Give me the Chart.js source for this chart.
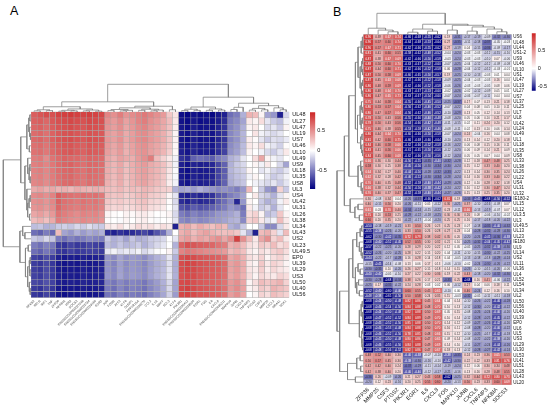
<!DOCTYPE html>
<html>
<head>
<meta charset="utf-8">
<script src="https://cdn.jsdelivr.net/npm/chart.js@4.4.1/dist/chart.umd.min.js"></script>
<style>
  html, body { margin: 0; padding: 0; background: #fff; }
  body { width: 550px; height: 408px; position: relative; overflow: hidden; font-family: "Liberation Sans", Arial, sans-serif; }
  canvas, .tag { position: absolute; }
  .tag { font-size: 12.5px; line-height: 12.5px; color: #000; }
</style>
</head>
<body>
<div class="tag" style="left:10px;top:5px">A</div>
<div class="tag" style="left:333px;top:5.5px">B</div>
<script>
// ---- panel A data ----
const rowsA = ['UL48','UL27','UL47','UL19','US7','UL46','UL10','UL49','US9','UL18','UL35','US8','UL3','US4','UL42','UL31','UL26','UL38','UL34','UL43','US2','UL23','UL49.5','EP0','UL39','UL29','US3','UL50','UL40','UL56'];
const colsA = ['NFKB2','RELB','IRF1','TNF','ZFP36','NFKBIA','IER3','SOCS3','ENSSSCG00000027046','ENSSSCG00000033784','ENSSSCG00000029160','EGR3','JUN','FOSB','ATF3','KLF6','DUSP1','PPP1R15A','ENSSSCG00000039275','CCL2','IL1A','MAFF','BCL3','KLF4','PIK3R1','ENSSSCG00000030412','ENSSSCG00000028594','EGR1','FOS','IL6','CXCL8','ENSSSCG00000035311','MAPK10','JUNB','CXCL6','TNFAIP3','PTGS2','CSF3','MMP25','CXCL2','NR4A1','SGK1'];
const valuesA = [
  [.72,.76,.80,.78, .84,.86,.88,.85,.83,.86,.84,.82, .55,.50,.58,.48,.52,.56,.60,.55,.50,.45, .25,.12, -.92,-.95,-.90,-.93,-.91,-.94,-.88,-.85, -.55,-.50,-.30, .35,.30,.05,-.35,-.40,-.85,-.15],
  [.70,.72,.68,.74, .78,.80,.82,.79,.77,.81,.80,.78, .50,.45,.52,.42,.48,.55,.58,.50,.46,.40, .30,.10, -.90,-.93,-.88,-.92,-.90,-.91,-.86,-.80, -.50,-.45,-.35, .10,.05,.15,-.10,-.20,-.25,-.05],
  [.68,.70,.66,.72, .76,.78,.80,.77,.75,.79,.78,.76, .48,.44,.50,.40,.46,.52,.55,.48,.44,.38, .28,.08, -.88,-.92,-.86,-.90,-.89,-.90,-.84,-.78, -.48,-.42,-.30, .05,.10,.00,-.15,-.10,-.20,.05],
  [.66,.68,.64,.70, .74,.77,.78,.75,.73,.77,.76,.74, .46,.42,.48,.38,.44,.50,.52,.46,.42,.36, .25,.05, -.87,-.91,-.85,-.89,-.88,-.89,-.82,-.76, -.46,-.40,-.28, .00,.12,-.05,-.10,-.15,-.10,.00],
  [.67,.69,.65,.71, .75,.78,.79,.76,.74,.78,.77,.75, .47,.43,.49,.39,.45,.51,.53,.47,.43,.37, .26,.06, -.88,-.92,-.86,-.90,-.89,-.90,-.83,-.77, -.47,-.41,-.29, .08,.02,-.10,-.20,-.12,-.15,-.08],
  [.64,.66,.62,.68, .72,.75,.76,.73,.71,.75,.74,.72, .45,.40,.46,.36,.42,.48,.50,.44,.40,.34, .24,.04, -.86,-.90,-.84,-.88,-.87,-.88,-.80,-.74, -.44,-.38,-.26, .10,.05,.15,-.05,-.10,-.18,.02],
  [.63,.65,.61,.67, .71,.74,.75,.72,.70,.74,.73,.71, .44,.39,.45,.35,.41,.47,.49,.43,.39,.33, .22,.03, -.85,-.89,-.83,-.87,-.86,-.87,-.79,-.72, -.42,-.36,-.25, .05,.00,-.05,-.15,-.20,-.10,.10],
  [.58,.60,.52,.62, .66,.70,.68,.67,.65,.69,.68,.66, .40,.35,.42,.38,.36,.45,.50,.58,.30,.20, .10,-.05, -.78,-.82,-.60,-.55,-.58,-.62,-.50,-.45, -.30,-.25,-.10, .00,.15,.40,.05,-.05,-.10,.00],
  [.57,.59,.55,.61, .66,.69,.70,.66,.64,.68,.67,.65, .38,.33,.40,.30,.36,.42,.45,.38,.34,.28, .15,-.05, -.85,-.90,-.84,-.86,-.85,-.82,-.70,-.60, -.30,-.20,-.15, .00,.05,-.05,.10,.00,-.15,-.35],
  [.56,.58,.54,.60, .65,.68,.69,.65,.63,.67,.66,.64, .37,.32,.39,.29,.35,.41,.44,.37,.33,.27, .12,-.02, -.88,-.92,-.86,-.88,-.87,-.84,-.72,-.62, -.28,-.22,-.18, .05,.00,-.10,-.05,-.15,-.20,-.10],
  [.55,.57,.53,.59, .64,.67,.68,.64,.62,.66,.65,.63, .36,.31,.38,.28,.34,.40,.43,.36,.32,.26, .10,-.03, -.87,-.91,-.85,-.87,-.86,-.83,-.71,-.61, -.30,-.24,-.20, -.05,.05,.00,-.10,-.20,-.15,-.05],
  [.54,.56,.52,.58, .63,.66,.67,.63,.61,.65,.64,.62, .35,.30,.37,.27,.33,.39,.42,.35,.31,.25, .08,-.05, -.86,-.90,-.84,-.86,-.85,-.82,-.70,-.60, -.32,-.26,-.22, .00,-.05,-.10,-.15,-.10,-.20,-.10],
  [.38,.42,.36,.40, .34,.36,.32,.38,.35,.33,.37,.34, .30,.28,.32,.26,.30,.28,.33,.30,.25,.22, .20,-.30, -.35,-.32,-.38,-.30,-.36,-.40,-.45,-.42, -.45,-.50,-.40, .30,.00,-.20,-.40,-.45,.20,-.20],
  [.52,.54,.50,.56, .72,.66,.64,.62,.65,.63,.64,.60, .30,.26,.28,.22,.25,.30,.32,.24,.22,.18, .05,-.10, -.82,-.86,-.80,-.84,-.82,-.78,-.65,-.60, -.50,-.45,-.35, .00,.10,-.15,-.20,-.30,-.10,.05],
  [.50,.52,.48,.54, .70,.64,.62,.60,.63,.61,.62,.58, .26,.22,.24,.20,.22,.26,.28,.20,.18,.15, .02,-.15, -.80,-.84,-.78,-.82,-.80,-.76,-.62,-.55, -.45,-.82,-.40, .05,.00,-.20,-.30,-.25,-.05,.10],
  [.48,.50,.46,.52, .68,.62,.60,.58,.61,.59,.60,.56, .22,.18,.20,.15,.18,.22,.24,.16,.14,.10, .00,-.10, -.65,-.70,-.62,-.66,-.64,-.60,-.55,-.50, -.40,-.45,-.55, .10,-.05,-.20,-.15,-.30,-.10,.00],
  [.40,.44,.38,.46, .62,.58,.55,.52,.56,.54,.55,.50, .05,.02,.00,.06,.03,.08,.10,.04,.00,.02, .05,-.15, -.50,-.55,-.48,-.52,-.50,-.46,-.40,-.38, -.35,-.30,-.50, .15,.20,.05,-.25,-.20,.25,.05],
  [.30,.35,.28,.38, .58,.55,.52,.50,.53,.51,.52,.48, .02,.00,-.02,.05,.00,.06,.08,.02,-.02,.00, .02,-.10, -.45,-.48,-.42,-.46,-.44,-.40,-.38,-.35, -.30,-.28,-.45, .20,.25,.10,-.10,-.05,.30,.10],
  [-.25,-.22,-.30,-.28, -.20,-.18,-.22,-.15,-.20,-.12,-.18,-.20, .12,.08,.15,.05,.10,.18,.12,.15,.08,.15, .10,-.85, .35,.40,.30,.38,.32,.28,.35,.30, -.30,-.35,-.20, .00,.00,-.20,-.45,-.45,-.15,.10],
  [-.55,-.60,-.50,-.58, .30,-.35,-.40,-.30,-.38,-.32,-.36,-.30, -.80,-.85,-.78,-.82,-.80,-.75,-.70,-.78,-.65,-.55, -.30,.00, .35,.40,.30,.38,.42,.35,.30,.28, .30,.25,-.10, -.30,-.85,.30,.35,.20,-.10,.30],
  [-.20,-.25,-.15,-.22, -.50,-.55,-.48,-.52,-.50,-.45,-.48,-.50, -.20,-.30,-.25,-.35,-.22,-.30,-.28,-.20,-.18,-.15, .00,-.10, .40,.45,.35,.42,.38,.45,.50,.40, .50,.85,.50, .30,.10,.40,.50,.20,.30,.10],
  [-.50,-.55,-.48,-.52, -.75,-.78,-.72,-.76,-.74,-.70,-.73,-.75, -.25,-.30,-.22,-.28,-.25,-.20,-.30,-.22,-.15,-.10, .00,-.30, .70,.78,.75,.72,.70,.68,.62,.58, .35,.40,.30, .15,.10,.25,.20,.30,.15,.20],
  [-.55,-.60,-.52,-.58, -.75,-.78,-.72,-.76,-.74,-.72,-.73,-.75, -.10,-.05,-.12,-.08,-.10,-.05,-.15,-.08,-.02,.00, .05,-.20, .55,.60,.58,.55,.52,.50,.48,.45, .30,.35,.28, .10,.05,.15,.10,.20,.25,.15],
  [-.72,-.75,-.68,-.74, -.85,-.88,-.86,-.87,-.84,-.86,-.85,-.83, -.40,-.45,-.35,-.42,-.38,-.40,-.44,-.36,-.30,-.25, -.10,-.30, .78,.82,.80,.76,.74,.72,.70,.65, .40,.45,.35, .15,.10,.20,.05,.15,.20,.10],
  [-.74,-.77,-.70,-.76, -.87,-.90,-.88,-.89,-.86,-.88,-.87,-.85, -.42,-.47,-.37,-.44,-.40,-.42,-.46,-.38,-.32,-.27, -.12,-.32, .80,.84,.82,.78,.76,.74,.72,.67, .42,.47,.37, .10,.05,.25,.10,.20,.15,.05],
  [-.73,-.76,-.69,-.75, -.86,-.89,-.87,-.88,-.85,-.87,-.86,-.84, -.41,-.46,-.36,-.43,-.39,-.41,-.45,-.37,-.31,-.26, -.11,-.31, .79,.83,.81,.77,.75,.73,.71,.66, .41,.46,.36, .12,.08,.22,.08,.18,.12,.08],
  [-.72,-.75,-.68,-.74, -.85,-.88,-.86,-.87,-.84,-.86,-.85,-.83, -.40,-.45,-.35,-.42,-.38,-.40,-.44,-.36,-.30,-.25, -.10,-.30, .78,.82,.80,.76,.74,.72,.70,.65, .40,.45,.35, .15,.05,.18,.12,.10,.20,.15],
  [-.70,-.72,-.66,-.72, -.84,-.87,-.85,-.86,-.83,-.85,-.84,-.82, -.48,-.52,-.45,-.50,-.46,-.48,-.52,-.44,-.38,-.30, -.15,-.35, .80,.82,.78,.74,.72,.70,.68,.62, .45,.50,.40, .05,.15,.30,.25,.30,.35,.20],
  [-.75,-.78,-.70,-.76, -.88,-.90,-.88,-.89,-.86,-.88,-.87,-.85, -.50,-.55,-.46,-.52,-.48,-.50,-.54,-.46,-.40,-.32, -.15,-.35, .82,.85,.80,.76,.74,.72,.70,.64, .46,.52,.42, .05,.10,.25,.20,.35,.30,.25],
  [-.76,-.79,-.72,-.78, -.89,-.91,-.89,-.90,-.87,-.89,-.88,-.86, -.52,-.56,-.48,-.54,-.50,-.52,-.56,-.48,-.42,-.34, -.18,-.38, .82,.84,.80,.76,.75,.72,.70,.64, .44,.50,.40, .00,.05,.20,.15,.30,.25,.20]
];
const legendA = [-0.97, 0.97];
const legendTicksA = [-0.5, 0, 0.5];
// dendrograms: [height, left, right], leaves are display positions
const treeAcols = [1.0,
  [0.36,
    [0.18, [0.07, [0.03, 0, 1], [0.04, 2, 3]], [0.1, [0.05, [0.02, 4, 5], [0.03, 6, 7]], [0.06, [0.03, 8, 9], [0.02, 10, 11]]]],
    [0.2, [0.14, [0.08, [0.04, 12, 13], [0.05, [0.03, 14, 15], 16]], [0.09, [0.05, 17, 18], [0.06, [0.03, 19, 20], 21]]], [0.07, 22, 23]]],
  [0.53,
    [0.17, [0.09, [0.04, 24, 25], [0.05, 26, 27]], [0.1, [0.05, 28, 29], [0.06, 30, 31]]],
    [0.31, [0.16, [0.08, 32, 33], 34], [0.22, [0.12, [0.06, 35, 36], [0.07, 37, 38]], [0.14, 39, [0.07, 40, 41]]]]]];
const treeArows = [1.0,
  [0.37,
    [0.15, [0.08, [0.04, 0, 1], [0.05, 2, [0.02, 3, 4]]], [0.06, 5, 6]],
    [0.22, [0.12, 7, [0.07, [0.04, 8, 9], [0.03, 10, 11]]], [0.15, 12, [0.12, [0.07, [0.03, 13, 14], 15], [0.05, 16, 17]]]]],
  [0.4,
    [0.3, 18, [0.22, 19, 20]],
    [0.2, [0.1, 21, 22], [0.12, [0.07, [0.03, 23, 24], [0.04, 25, 26]], [0.06, 27, [0.03, 28, 29]]]]]];

// ---- panel B data ----
const rowsB = ['US6','UL48','UL44','US1-2','US9','UL46','UL10','US1','UL47','UL19','UL27','US7','UL37','UL25','UL7','UL8','UL42','UL24','UL49','UL1','UL18','UL35','US8','UL33','UL38','UL26','UL22','US4','UL31','UL32','IE180-2','UL15','UL12','UL3.5','UL3','UL49.5','UL13','UL23','IE180','UL9','UL14','US2','UL11','UL36','UL4','UL52','UL54','UL34','UL2','UL50','UL56','UL40','UL39','EP0','UL6','UL5','US3','UL29','UL30','UL53','UL41','UL51','UL28','UL43','UL20'];
const colsB = ['ZFP36','MMP25','CSF3','PTGS2','PIK3R1','EGR1','IL6','CXCL8','FOS','MAPK10','JUNB','CXCL6','TNFAIP3','NFKBIA','SOCS3'];
const valuesB = [
  [.90,.39,.67,.74,-.66,-.68,-.55,-.62,.19,-.31,-.17,-.19,-.09,-.32,-.30],
  [.90,.57,.60,.74,-.64,-.68,-.53,-.64,.27,-.35,-.11,-.18,-.37,-.05,-.03],
  [.90,.57,.67,.71,-.62,-.66,-.55,-.62,.27,-.19,.04,-.15,-.36,-.09,-.17],
  [.81,.41,.60,.55,-.58,-.62,-.48,-.52,-.04,-.24,-.03,-.03,-.12,-.15,-.10],
  [.87,.38,.67,.69,-.62,-.66,-.50,-.58,-.03,-.24,-.03,-.03,-.10,.07,-.06],
  [.88,.50,.60,.70,-.63,-.67,-.52,-.60,-.07,-.25,-.04,-.12,-.12,-.09,-.08],
  [.87,.44,.60,.71,-.62,-.66,-.52,-.58,.06,-.28,-.04,-.12,-.12,-.03,-.01],
  [.87,.50,.58,.69,-.60,-.65,-.50,-.57,.19,-.25,-.10,-.13,-.03,.01,.04],
  [.87,.45,.63,.68,-.62,-.66,-.52,-.58,-.09,-.25,-.04,-.03,-.03,.16,.04],
  [.86,.48,.59,.69,-.62,-.66,-.52,-.58,-.06,-.26,-.03,-.03,-.05,.08,.06],
  [.86,.48,.64,.70,-.63,-.67,-.53,-.60,-.02,-.26,-.02,-.12,-.09,.05,.01],
  [.86,.47,.65,.73,-.63,-.67,-.54,-.60,-.07,-.24,-.06,-.07,-.11,.04,.04],
  [.75,.44,.58,.64,-.55,-.60,-.45,-.50,-.25,-.37,.17,.07,.13,.21,.18],
  [.80,.53,.57,.64,-.56,-.62,-.46,-.52,-.07,-.22,.04,.08,.05,.10,.11],
  [.80,.47,.57,.64,-.56,-.62,-.46,-.52,-.10,-.29,.13,.05,.12,.14,.13],
  [.78,.50,.43,.56,-.55,-.60,-.40,-.48,-.08,-.20,.05,.06,.10,.21,.17],
  [.78,.50,.43,.56,-.54,-.60,-.42,-.48,-.11,-.15,.02,.11,.24,.20,.12],
  [.75,.46,.38,.55,-.53,-.58,-.42,-.46,-.08,-.11,.02,.13,.10,.06,.14],
  [.86,.44,.64,.70,-.60,-.66,-.50,-.58,-.07,-.24,.24,-.04,.16,.04,.08],
  [.81,.42,.60,.75,-.66,-.68,-.60,-.64,-.10,-.20,.13,.14,.12,.20,.18],
  [.84,.46,.58,.66,-.62,-.66,-.52,-.58,-.16,-.22,.06,.08,.15,.16,.11],
  [.83,.41,.56,.66,-.61,-.65,-.50,-.56,-.12,-.20,.06,.09,.14,.21,.09],
  [.84,.45,.60,.68,-.62,-.66,-.50,-.56,-.12,-.24,.05,.05,.07,.04,.09],
  [.66,.36,.30,.44,-.50,-.55,-.35,-.40,-.32,-.28,.12,.18,.47,.48,.25],
  [.58,.30,.25,.38,-.45,-.50,-.30,-.34,-.30,-.24,.15,.12,.33,.40,.20],
  [.64,.34,.27,.40,-.44,-.50,-.28,-.32,-.33,-.22,.13,.14,.30,.35,.24],
  [.62,.32,.28,.42,-.46,-.52,-.30,-.34,-.28,-.24,.14,.16,.33,.40,.22],
  [.70,.40,.35,.48,-.52,-.58,-.40,-.44,-.29,-.26,.12,.10,.28,.32,.18],
  [.66,.38,.32,.44,-.50,-.56,-.38,-.42,-.24,-.22,.10,.12,.30,.47,.24],
  [.70,.40,.37,.47,-.52,-.58,-.40,-.44,-.27,-.26,.15,.13,.25,.35,.20],
  [.30,-.08,.34,.04,-.26,-.37,-.66,-.62,.81,.19,-.33,-.45,-.68,-.50,-.52],
  [.40,-.15,.50,.20,-.26,-.11,.05,-.12,.36,-.21,.37,-.10,-.16,-.09,.07],
  [.61,.03,.70,.40,-.34,-.24,-.15,-.22,.23,-.11,.66,-.13,-.19,-.07,.07],
  [.75,.20,.53,.25,-.29,-.22,-.18,-.25,.30,.30,.26,.08,-.06,-.10,-.02],
  [.60,.20,.35,.20,-.22,-.17,-.04,-.20,.25,.25,.16,-.17,-.18,-.20,-.22],
  [-.50,-.18,-.19,-.21,.33,.50,.26,.23,.25,.23,.07,-.18,-.35,-.40,-.32],
  [-.55,-.38,-.26,-.20,.33,.50,.26,.28,.27,.23,.04,-.28,-.32,-.28,-.30],
  [-.62,-.30,-.42,-.35,.72,.79,.38,.42,.35,.20,-.20,-.26,-.45,-.36,-.38],
  [-.68,-.40,-.52,-.45,.52,.55,.30,.32,.21,.10,-.25,-.32,-.44,-.45,-.42],
  [-.57,-.22,-.25,-.20,.28,.29,.20,.22,.12,.05,-.05,-.25,-.32,-.38,-.30],
  [-.52,-.26,-.20,-.25,.28,.22,.15,.20,.04,-.11,-.10,-.15,-.30,-.22,-.25],
  [-.44,-.22,-.17,-.28,.16,.28,.14,.18,.04,-.05,-.13,-.18,-.18,-.29,-.24],
  [-.15,-.45,-.14,-.08,.13,.06,.17,.13,-.06,-.10,-.02,-.24,-.30,-.26,-.22],
  [-.30,-.35,.10,-.20,.26,.27,.15,.18,.14,.15,-.23,-.10,-.15,-.20,-.06],
  [-.40,-.40,-.05,-.10,.27,.22,.30,.36,.19,.22,.43,-.18,-.20,-.32,-.30],
  [-.30,-.28,-.68,-.34,.38,.26,.17,.21,-.35,.25,-.68,.16,.41,-.06,-.22],
  [-.25,.17,-.35,-.22,.24,.28,.03,.02,.06,-.12,.27,.04,.06,.18,.11],
  [-.52,-.40,-.60,-.40,.60,.55,.45,.65,-.10,.00,.46,-.24,.12,.16,.10],
  [-.48,-.38,-.65,-.50,.50,.58,.24,.35,.15,-.03,-.32,-.05,-.11,-.11,-.18],
  [-.68,-.44,-.50,-.48,.82,.86,.45,.64,.04,.14,-.10,-.26,-.22,-.46,-.28],
  [-.68,-.46,-.54,-.50,.84,.88,.48,.70,.10,.13,-.12,-.30,-.20,-.42,-.22],
  [-.68,-.44,-.50,-.48,.82,.88,.50,.69,.05,.15,-.08,-.26,-.24,-.40,-.20],
  [-.68,-.47,-.52,-.52,.84,.89,.49,.70,.10,.14,-.12,-.28,-.25,-.45,-.22],
  [-.68,-.45,-.52,-.50,.85,.88,.50,.70,.14,.12,-.09,-.27,-.26,-.42,-.20],
  [-.68,-.46,-.53,-.48,.84,.88,.50,.70,.16,.11,-.08,-.28,-.20,-.40,-.22],
  [-.68,-.46,-.52,-.50,.78,.85,.48,.66,.15,.12,-.10,-.25,-.17,-.42,-.18],
  [-.68,-.45,-.50,-.48,.80,.86,.47,.65,.09,.14,-.08,-.22,-.22,-.38,-.20],
  [-.68,-.46,-.55,-.50,.84,.88,.49,.69,.14,.10,-.11,-.27,-.24,-.44,-.26],
  [-.68,-.48,-.56,-.52,.82,.86,.47,.67,.18,.13,-.12,-.28,-.27,-.42,-.24],
  [.48,.52,.40,.30,-.40,-.38,-.07,-.10,-.38,-.35,.24,.23,.36,.65,.53],
  [.50,.57,.45,.30,-.38,-.30,-.16,-.10,-.42,-.30,.22,.22,.33,.81,.76],
  [.42,.42,.40,.24,-.37,-.29,-.11,-.14,-.19,-.24,.12,.06,.30,.34,.48],
  [.42,.38,.40,.20,-.40,-.40,-.12,-.17,-.21,-.16,.13,.16,.28,.48,.55],
  [-.36,.26,-.09,-.26,.21,.27,.43,.58,-.62,-.25,.32,.44,.72,.80,.73],
  [-.20,.12,.23,-.16,.20,.25,.55,.60,-.20,-.13,.50,.23,.33,.60,.69]
];
const legendB = [-0.63, 1.0];
const legendTicksB = [-0.5, 0, 0.5];
const treeBcols = [1.0,
  [0.29, 0, [0.2, 1, [0.12, 2, 3]]],
  [0.48, [0.25, [0.1, 4, 5], [0.15, 6, 7]], [0.43, [0.2, 8, 9], [0.35, [0.15, 10, 11], [0.25, 12, [0.12, 13, 14]]]]]];
const treeBrows = [1.0,
  [0.72,
    [0.55,
      [0.3, [0.2, [0.08, [0.04, 0, [0.02, 1, 2]], 3], [0.12, [0.06, [0.03, 4, 5], [0.03, 6, 7]], [0.07, [0.03, 8, 9], [0.04, 10, 11]]]],
            [0.22, [0.12, [0.07, 12, [0.04, 13, 14]], [0.08, [0.04, 15, 16], 17]], [0.1, [0.05, 18, 19], [0.06, 20, [0.03, 21, 22]]]]],
      [0.2, [0.1, 23, [0.06, 24, [0.03, 25, 26]]], [0.08, 27, [0.04, 28, 29]]]],
    [0.5, 30, [0.32, [0.2, 31, 32], [0.15, 33, 34]]]],
  [0.9,
    [0.55,
      [0.4, [0.25, [0.12, [0.06, 35, 36], 37], [0.15, 38, [0.08, 39, [0.04, 40, 41]]]],
            [0.3, [0.2, 42, [0.12, 43, 44]], [0.25, [0.18, 45, 46], [0.15, 47, 48]]]],
      [0.15, [0.08, [0.04, 49, 50], [0.03, 51, [0.02, 52, 53]]], [0.07, [0.03, 54, 55], [0.05, 56, [0.03, 57, 58]]]]],
    [0.6, [0.25, [0.12, 59, 60], [0.1, 61, 62]], [0.3, 63, 64]]]];

// ---- drawing ----
const FAMILY = '"Liberation Sans", Arial, Helvetica, sans-serif';
Chart.defaults.font.family = FAMILY;

const NAVY = [0, 0, 128], WHITE = [255, 255, 255], FIRE = [205, 38, 38];
// white sits at 0, navy at the low end, firebrick at the high end
function heatColor(v, range) {
  const f = v < 0 ? Math.min(1, v / range[0]) : Math.min(1, v / range[1]);
  const end = v < 0 ? NAVY : FIRE;
  const c = WHITE.map((x, i) => Math.round(x + (end[i] - x) * f));
  return `rgb(${c[0]},${c[1]},${c[2]})`;
}

function makeCanvas() {
  const c = document.createElement('canvas');
  c.width = 550; c.height = 408;
  c.style.left = '0px'; c.style.top = '0px';
  c.style.width = '550px'; c.style.height = '408px';
  document.body.appendChild(c);
  return c;
}

// padding so that the chart area lands on (l,t)-(r,b) of the page
function area(l, t, r, b, axisR = 0, axisB = 0) {
  return {left: l, top: t, right: 550 - r - axisR, bottom: 408 - b - axisB};
}

const base = {
  responsive: false, animation: false, events: [],
  plugins: {legend: {display: false}, tooltip: {enabled: false}}
};

function heatChart(rows, cols, values, range, pad, o) {
  const datasets = rows.map((name, r) => ({
    label: name,
    data: cols.map(() => [r, r + 1]),
    backgroundColor: values[r].map(v => heatColor(v, range)),
    borderColor: '#a6a6a6',
    borderWidth: 0.5,
    borderSkipped: false,
    barPercentage: 1,
    categoryPercentage: 1,
    grouped: false
  }));
  return new Chart(makeCanvas(), {
    type: 'bar',
    data: {labels: cols, datasets},
    plugins: o.plugins || [],
    options: {
      ...base,
      layout: {padding: pad},
      plugins: {...base.plugins, cellText: o.cellText || {}},
      scales: {
        x: {
          grid: {display: false, drawTicks: false}, border: {display: false},
          ticks: {autoSkip: false, minRotation: 45, maxRotation: 45, padding: 1.5, color: o.xColor, font: {size: o.xFont}},
          afterFit: s => { s.height = o.xH; }
        },
        y: {
          position: 'right', min: 0, max: rows.length, reverse: true,
          grid: {display: false, drawTicks: false}, border: {display: false},
          afterBuildTicks: s => { s.ticks = rows.map((_, i) => ({value: i + 0.5})); },
          ticks: {autoSkip: false, padding: o.yPad, color: '#111', font: {size: o.yFont}, callback: v => rows[Math.floor(v)]},
          afterFit: s => { s.width = o.yW; }
        }
      }
    }
  });
}

function dendroChart(tree, horizontal, pad, n) {
  const datasets = [];
  (function walk(node) {
    if (typeof node === 'number') return {p: node, h: 0};
    const [h, a, b] = node;
    const l = walk(a), r = walk(b);
    const pts = [[l.p, l.h], [l.p, h], [r.p, h], [r.p, r.h]];
    datasets.push({
      data: pts.map(([p, hh]) => horizontal ? {x: hh, y: p} : {x: p, y: hh}),
      showLine: true, borderColor: '#858585', borderWidth: 0.8,
      pointRadius: 0, fill: false, tension: 0, clip: false
    });
    return {p: (l.p + r.p) / 2, h};
  })(tree);
  const leafRange = {type: 'linear', display: false, min: -0.5, max: n - 0.5};
  const heightRange = {type: 'linear', display: false, min: 0, max: 1};
  return new Chart(makeCanvas(), {
    type: 'scatter',
    data: {datasets},
    options: {
      ...base,
      layout: {padding: pad},
      scales: horizontal
        ? {x: {...heightRange, reverse: true}, y: {...leafRange, reverse: true}}
        : {x: leafRange, y: heightRange}
    }
  });
}

function legendChart(range, ticks, pad) {
  const zero = -range[0] / (range[1] - range[0]);
  return new Chart(makeCanvas(), {
    type: 'bar',
    data: {
      labels: [''],
      datasets: [{
        data: [range],
        barPercentage: 1, categoryPercentage: 1, borderWidth: 0,
        backgroundColor: c => {
          const ca = c.chart.chartArea;
          if (!ca) return '#fff';
          const g = c.chart.ctx.createLinearGradient(0, ca.bottom, 0, ca.top);
          g.addColorStop(0, 'rgb(0,0,128)');
          g.addColorStop(zero, '#fff');
          g.addColorStop(1, 'rgb(205,38,38)');
          return g;
        }
      }]
    },
    options: {
      ...base,
      layout: {padding: pad},
      scales: {
        x: {display: false},
        y: {
          position: 'right', min: range[0], max: range[1],
          grid: {display: false, drawTicks: false}, border: {display: false},
          afterBuildTicks: s => { s.ticks = ticks.map(v => ({value: v})); },
          ticks: {padding: 2, color: '#111', font: {size: 5.5}, callback: v => String(v)},
          afterFit: s => { s.width = 20; }
        }
      }
    }
  });
}

// numbers printed inside the panel B cells
const cellText = {
  id: 'cellText',
  afterDatasetsDraw(chart, args, opts) {
    if (!opts.values) return;
    const ctx = chart.ctx;
    ctx.save();
    ctx.font = `${opts.size}px ${FAMILY}`;
    ctx.textAlign = 'center';
    ctx.textBaseline = 'middle';
    chart.data.datasets.forEach((ds, r) => {
      chart.getDatasetMeta(r).data.forEach((bar, c) => {
        const v = opts.values[r][c];
        const f = v < 0 ? v / opts.range[0] : v / opts.range[1];
        ctx.fillStyle = f > 0.6 ? '#fff' : '#333';
        ctx.fillText(v.toFixed(2), bar.x, (bar.y + bar.base) / 2 + 0.2);
      });
    });
    ctx.restore();
  }
};

// panel A
heatChart(rowsA, colsA, valuesA, legendA, area(31, 111.7, 289.3, 297.7, 24, 50),
  {xFont: 3.2, xColor: '#444', xH: 50, yFont: 5.5, yW: 24, yPad: 3});
dendroChart(treeAcols, false, area(31, 84.3, 289.3, 111.7), colsA.length);
dendroChart(treeArows, true, area(3.3, 111.7, 31, 297.7), rowsA.length);
legendChart(legendA, legendTicksA, area(310, 112.3, 315.3, 189, 20));

// panel B
heatChart(rowsB, colsB, valuesB, legendB, area(363.3, 34.3, 511.7, 385, 24, 22),
  {xFont: 5.5, xColor: '#222', xH: 22, yFont: 4.5, yW: 24, yPad: 1.6,
   plugins: [cellText], cellText: {values: valuesB, range: legendB, size: 2.9}});
dendroChart(treeBcols, false, area(363.3, 13.3, 511.7, 34.3), colsB.length);
dendroChart(treeBrows, true, area(337, 34.3, 363.3, 385), rowsB.length);
legendChart(legendB, legendTicksB, area(531.7, 33.3, 535.7, 90.7, 20));
</script>
</body>
</html>
